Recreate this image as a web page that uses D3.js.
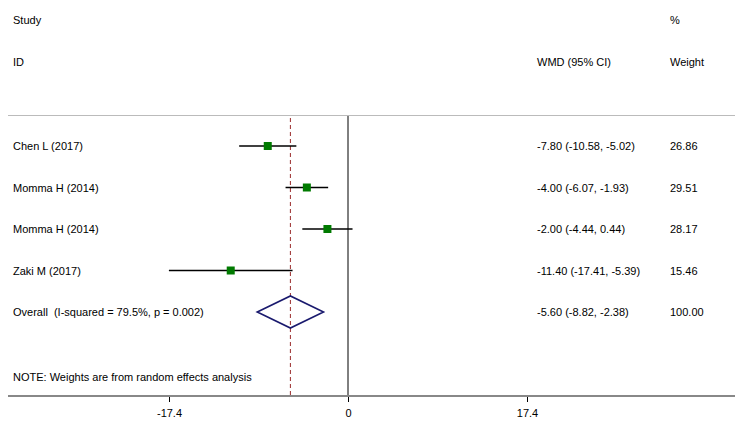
<!DOCTYPE html>
<html>
<head>
<meta charset="utf-8">
<script src="https://cdn.jsdelivr.net/npm/d3@7"></script>
<style>
body{margin:0;background:#fff}
text{font-family:"Liberation Sans",Arial,sans-serif;font-size:11px;fill:#000}
</style>
</head>
<body>
<script>
var studies=["Chen L (2017)","Momma H (2014)","Momma H (2014)","Zaki M (2017)"]
var est=[-7.80,-4.00,-2.00,-11.40]
var lo=[-10.58,-6.07,-4.44,-17.41]
var hi=[-5.02,-1.93,0.44,-5.39]
var weights=["26.86","29.51","28.17","15.46"]
var overall={label:"Overall  (I-squared = 79.5%, p = 0.002)",est:-5.60,lo:-8.82,hi:-2.38,w:"100.00"}
var tickVals=[-17.4,0,17.4]

var W=744,H=428
var svg=d3.select("body").append("svg").attr("width",W).attr("height",H)

var x=d3.scaleLinear().domain([-17.4,17.4]).range([169,527])
var y=d3.scalePoint().domain(d3.range(studies.length+1)).range([146,312])
// plain hyphen minus, like the original
var fmt=function(v){return v.toFixed(2)}

// headers
svg.append("text").attr("x",13).attr("y",24).text("Study")
svg.append("text").attr("x",13).attr("y",66).text("ID")
svg.append("text").attr("x",537).attr("y",66).text("WMD (95% CI)")
svg.append("text").attr("x",670).attr("y",24).text("%")
svg.append("text").attr("x",670).attr("y",66).text("Weight")

// top rule
svg.append("line").attr("x1",8).attr("x2",735).attr("y1",115.5).attr("y2",115.5)
  .attr("stroke","#bbb").attr("stroke-width",1)

// zero line
svg.append("line").attr("x1",x(0)).attr("x2",x(0)).attr("y1",116).attr("y2",396)
  .attr("stroke","#000").attr("stroke-width",1)

// overall dashed line
svg.append("line").attr("x1",x(overall.est)).attr("x2",x(overall.est)).attr("y1",118).attr("y2",396)
  .attr("stroke","#9b2c2c").attr("stroke-width",1).attr("stroke-dasharray","4,3")

// study rows
var rows=svg.selectAll("g.row").data(studies).enter().append("g").attr("class","row")
rows.append("line")
  .attr("x1",function(d,i){return x(lo[i])})
  .attr("x2",function(d,i){return x(hi[i])})
  .attr("y1",function(d,i){return y(i)})
  .attr("y2",function(d,i){return y(i)})
  .attr("stroke","#000").attr("stroke-width",1.6)
rows.append("rect")
  .attr("x",function(d,i){return x(est[i])-4})
  .attr("y",function(d,i){return y(i)-4})
  .attr("width",8).attr("height",8)
  .attr("fill","#007a00")
rows.append("text").attr("x",13).attr("y",function(d,i){return y(i)+4}).text(function(d){return d})
rows.append("text").attr("x",537).attr("y",function(d,i){return y(i)+4})
  .text(function(d,i){return fmt(est[i])+" ("+fmt(lo[i])+", "+fmt(hi[i])+")"})
rows.append("text").attr("x",670).attr("y",function(d,i){return y(i)+4}).text(function(d,i){return weights[i]})

// overall diamond
var oy=y(studies.length)
svg.append("path")
  .attr("d","M"+x(overall.lo)+","+oy+"L"+x(overall.est)+","+(oy-16)+"L"+x(overall.hi)+","+oy+"L"+x(overall.est)+","+(oy+16)+"Z")
  .attr("fill","none").attr("stroke","#1a1a6e").attr("stroke-width",1.6)
svg.append("text").attr("x",13).attr("y",oy+4).attr("xml:space","preserve").text(overall.label)
svg.append("text").attr("x",537).attr("y",oy+4)
  .text(fmt(overall.est)+" ("+fmt(overall.lo)+", "+fmt(overall.hi)+")")
svg.append("text").attr("x",670).attr("y",oy+4).text(overall.w)

svg.append("text").attr("x",13).attr("y",381).text("NOTE: Weights are from random effects analysis")

// x axis
var axis=svg.append("g").attr("transform","translate(0,396)")
  .call(d3.axisBottom(x).tickValues(tickVals).tickSize(6).tickPadding(7)
    .tickFormat(function(d){return d===0?"0":String(d)}))
axis.select(".domain").remove()
axis.selectAll(".tick line").attr("stroke","#000")
axis.selectAll(".tick text").style("font-size","11px").style("font-family","Liberation Sans, Arial, sans-serif")
axis.append("line").attr("x1",8).attr("x2",735).attr("y1",0).attr("y2",0)
  .attr("stroke","#888").attr("stroke-width",2)
</script>
</body>
</html>
